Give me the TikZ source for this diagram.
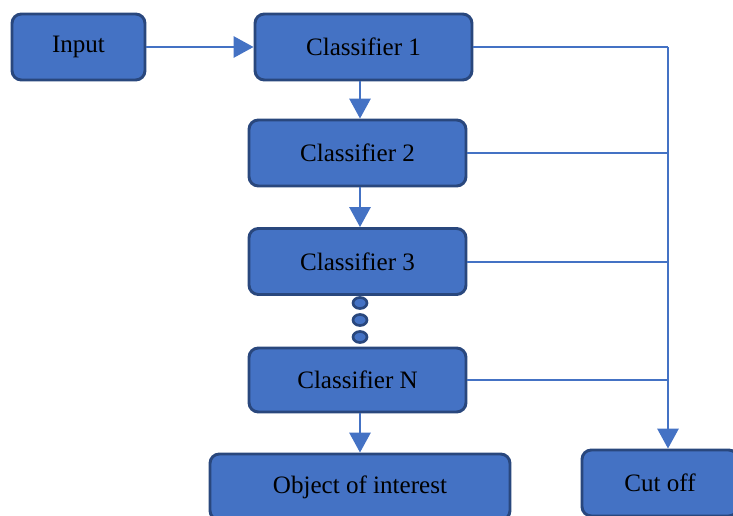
\documentclass[tikz,border=0pt]{standalone}
\usepackage{fontspec}
\setmainfont{Liberation Serif}
\usetikzlibrary{arrows.meta}
\definecolor{boxblue}{HTML}{4472C4}
\definecolor{boxedge}{HTML}{29477D}
\begin{document}
\begin{tikzpicture}[x=0.75pt,y=-0.75pt,
  stage/.style={draw=boxedge,line width=2.2pt,fill=boxblue,rounded corners=7pt,
    minimum height=49.5pt,inner sep=0pt,font=\fontsize{18.8}{21}\selectfont,text=black},
  flow/.style={draw=boxblue,line width=1.5pt},
  tip/.style={flow,-{Triangle[length=15pt,width=16pt]}}]
\useasboundingbox (0,0) rectangle (733,515);
\node[stage,minimum width=99.75pt] (input) at (78.5,47) {Input};
\node[stage,minimum width=162.75pt] (c1) at (363.5,47) {Classifier 1};
\node[stage,minimum width=162.75pt] (c2) at (357.5,153) {Classifier 2};
\node[stage,minimum width=162.75pt] (c3) at (357.5,261.5) {Classifier 3};
\node[stage,minimum width=162.75pt,minimum height=48pt] (cn) at (357.5,380) {Classifier N};
\node[stage,minimum width=225pt] (obj) at (360,487) {Object of interest};
\node[stage,minimum width=117pt] (cut) at (660,483) {Cut off};
\coordinate (bus) at (668,47);
% dots between stage 3 and N
\foreach \y in {303,320,337}
  \draw[draw=boxedge,line width=2pt,fill=boxblue] (360,\y) ellipse (7 and 5.5);
\draw[tip] (input) -- (c1);
\draw[tip] (c1.south -| 360,0) -- (c2.north -| 360,0);
\draw[tip] (c2.south -| 360,0) -- (c3.north -| 360,0);
\draw[tip] (cn.south -| 360,0) -- (obj.north -| 360,0);
\draw[flow] (c1.east) -- (bus);
\draw[flow] (c2.east) -- (c2.east -| bus);
\draw[flow] (c3.east) -- (c3.east -| bus);
\draw[flow] (cn.east) -- (cn.east -| bus);
\draw[tip] (bus) -- (bus |- cut.north);
\end{tikzpicture}
\end{document}
